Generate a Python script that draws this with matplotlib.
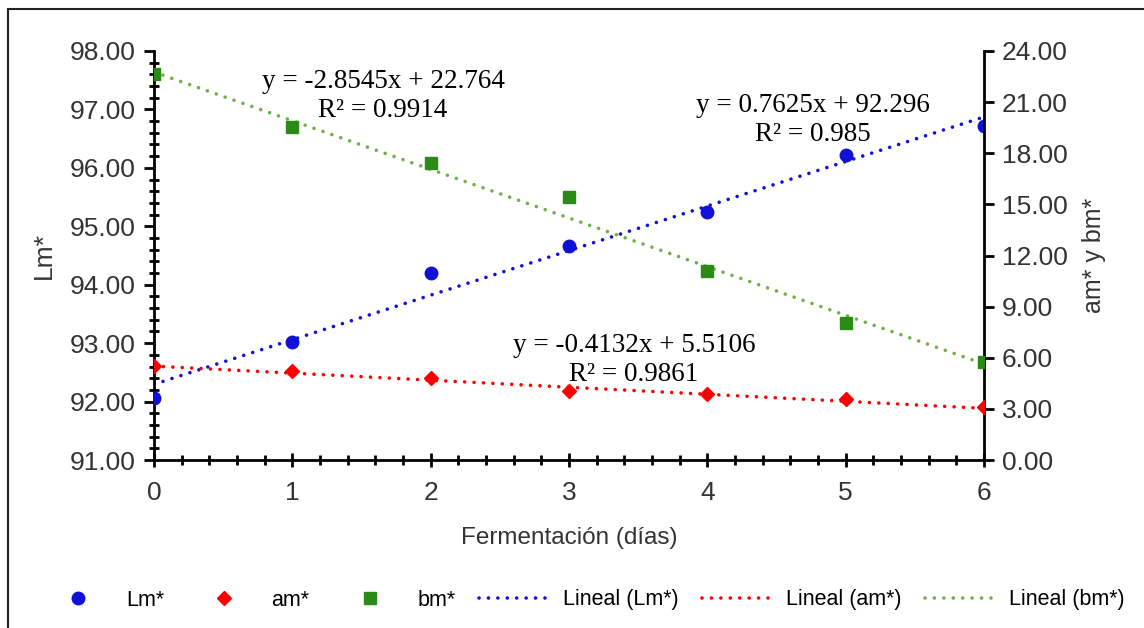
import numpy as np
import matplotlib.pyplot as plt
from matplotlib.patches import Rectangle
from matplotlib.ticker import MultipleLocator, FormatStrFormatter

# datos
dias = [0, 1, 2, 3, 4, 5, 6]
lm = [92.06, 93.02, 94.20, 94.66, 95.24, 96.22, 96.72]
am = [5.51, 5.22, 4.81, 4.05, 3.87, 3.58, 3.11]
bm = [22.65, 19.54, 17.43, 15.43, 11.09, 8.04, 5.75]

# coeficientes de las lineas de tendencia (pendiente, intercepto)
fit_lm = [0.7625, 92.296]
fit_am = [-0.4132, 5.5106]
fit_bm = [-2.8545, 22.764]
r2_lm, r2_am, r2_bm = 0.985, 0.9861, 0.9914

azul = '#1010d8'
rojo = '#ff0000'
verde = '#2a8c16'
verde_linea = '#70b048'

tick_font = 'Liberation Sans'
eq_font = 'Liberation Serif'
gris = '#333333'

fig = plt.figure(figsize=(11.44, 6.28), dpi=100)
ax = fig.add_axes([0.1346, 0.2675, 0.7255, 0.6513])
ax2 = ax.twinx()

xx = np.array([dias[0], dias[-1]])
punteado = (0, (0.01, 2.6))

# puntos
l1, = ax.plot(dias, lm, 'o', color=azul, ms=9, ls='none', label='Lm*', zorder=5)
l2, = ax2.plot(dias, am, 'D', color=rojo, ms=7, ls='none', label='am*', zorder=5)
l3, = ax2.plot(dias, bm, 's', color=verde, ms=9, ls='none', label='bm*', zorder=5)

# lineas de tendencia
t1, = ax.plot(xx, np.polyval(fit_lm, xx), color=azul, lw=2.6, ls=punteado,
              dash_capstyle='round', label='Lineal (Lm*)')
t2, = ax2.plot(xx, np.polyval(fit_am, xx), color=rojo, lw=2.6, ls=punteado,
               dash_capstyle='round', label='Lineal (am*)')
t3, = ax2.plot(xx, np.polyval(fit_bm, xx), color=verde_linea, lw=2.6, ls=punteado,
               dash_capstyle='round', label='Lineal (bm*)')

ax.set_xlim(0, 6)
ax.set_ylim(91, 98)
ax2.set_ylim(0, 24)

ax.xaxis.set_major_locator(MultipleLocator(1))
ax.xaxis.set_minor_locator(MultipleLocator(0.2))
ax.yaxis.set_major_locator(MultipleLocator(1))
ax.yaxis.set_minor_locator(MultipleLocator(0.2))
ax.yaxis.set_major_formatter(FormatStrFormatter('%.2f'))
ax2.yaxis.set_major_locator(MultipleLocator(3))
ax2.yaxis.set_major_formatter(FormatStrFormatter('%.2f'))

for a in (ax, ax2):
    a.spines['top'].set_visible(False)
    for s in a.spines.values():
        s.set_linewidth(2)
ax.spines['right'].set_visible(False)
ax2.spines['left'].set_visible(False)
ax2.spines['bottom'].set_visible(False)

ax.tick_params(axis='both', which='major', direction='out', length=7, width=2,
               labelsize=19, pad=6, colors='black', labelcolor=gris)
ax.tick_params(axis='both', which='minor', direction='inout', length=7, width=2)
ax.tick_params(axis='x', which='major', direction='inout', length=10, pad=10)
ax2.tick_params(axis='y', which='major', direction='out', length=7, width=2,
                labelsize=19, pad=6, labelcolor=gris)
for lab in ax.get_xticklabels() + ax.get_yticklabels() + ax2.get_yticklabels():
    lab.set_fontfamily(tick_font)

ax.set_xlabel('Fermentación (días)', fontsize=17.5, family=tick_font, color=gris, labelpad=16)
ax.set_ylabel('Lm*', fontsize=19, family=tick_font, color=gris, labelpad=10)
ax2.set_ylabel('am* y bm*', fontsize=18, family=tick_font, color=gris, labelpad=10)

# ecuaciones
def ecuacion(c):
    signo = '+' if c[1] >= 0 else '-'
    return 'y = %gx %s %g' % (c[0], signo, abs(c[1]))

kw = dict(ha='center', va='center', fontsize=19.5, family=eq_font, linespacing=1.2)
fig.text(383 / 1144, 1 - 96 / 628, ecuacion(fit_bm) + '\nR² = %g' % r2_bm, **kw)
fig.text(813 / 1144, 1 - 120 / 628, ecuacion(fit_lm) + '\nR² = %g' % r2_lm, **kw)
fig.text(634 / 1144, 1 - 360 / 628, ecuacion(fit_am) + '\nR² = %g' % r2_am, **kw)

leg = fig.legend(handles=[l1, l2, l3, t1, t2, t3], loc='center', ncol=6,
                 bbox_to_anchor=(0.51, 1 - 600 / 628), frameon=False,
                 prop={'family': tick_font, 'size': 15.5}, handlelength=3.4,
                 columnspacing=1.1, handletextpad=0.5)

# borde exterior
fig.patches.append(Rectangle((8 / 1144, -0.1), 1.2, 1 - 9 / 628 + 0.1,
                             transform=fig.transFigure, fill=False,
                             lw=1.5, edgecolor='#222222'))

fig.savefig('out.png', dpi=100)
